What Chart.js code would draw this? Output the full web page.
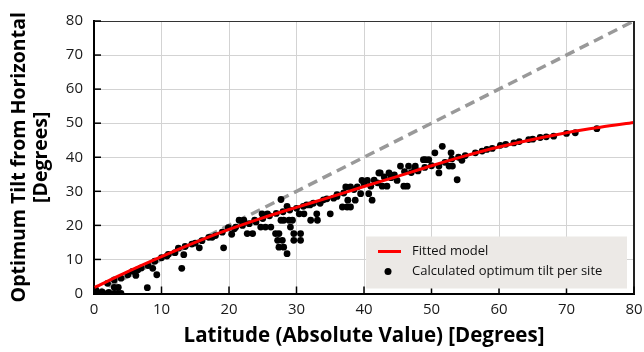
<!DOCTYPE html>
<html>
<head>
<meta charset="utf-8">
<script src="https://cdn.jsdelivr.net/npm/chart.js@4.4.1/dist/chart.umd.min.js"></script>
<style>
  html, body { margin: 0; padding: 0; background: #ffffff; }
  #wrap { width: 644px; height: 352px; position: relative; }
</style>
</head>
<body>
<div id="wrap"><canvas id="c" width="644" height="352"></canvas></div>
<script>
// ---- Data ----
const xTicks = [0, 10, 20, 30, 40, 50, 60, 70, 80];
const yTicks = [0, 10, 20, 30, 40, 50, 60, 70, 80];

// Calculated optimum tilt per site
const siteLatitude = [
  0, 0.3, 1, 1.2, 2, 2.2, 3, 3.5, 4, 3, 3.6, 7.9, 2, 3, 4, 5, 5.7, 6.2, 7, 8, 8.7, 9.3, 9, 10,
  11, 12, 12.5, 13, 13.3, 13.5, 14.5, 15.6, 16, 17, 18, 19, 19.2, 19.9, 20.4, 21, 21.5, 22.2, 22, 22.7, 23.5, 23,
  24, 24.7, 25.4, 26.2, 24.9, 25.7, 25, 26, 26.9, 27.4, 27.2, 27.9, 27.4, 28.1, 28.6, 27.7, 28.1, 28.9, 29.4,
  27.7, 28.6, 27, 28, 29, 29.1, 29.6, 30.6, 29.6, 30.6, 30.4, 31.1, 30, 31, 32, 32.1, 33.1, 33, 33.5, 34,
  35, 35.5, 36, 36.8, 37.5, 38, 37.6, 38.7, 37, 37.3, 38, 39, 39.5, 40.7, 41.2, 39.7, 40.5, 41, 42, 42.2,
  42.4, 42.7, 43.4, 43.7, 44, 44.9, 45.4, 45.9, 46.4, 46.6, 47.6, 47, 48, 48.8, 49.6, 49.1, 49, 50, 50.5,
  51.6, 51.1, 51.1, 52.9, 52.6, 53.1, 53.8, 52, 53, 54, 54.5, 55, 56.5, 57.5, 58.2, 59, 60.2, 61, 62.2, 63,
  64.4, 65, 66.1, 67, 68.1, 70, 71.3, 74.5, 31.5, 32.5, 34.5, 36, 6.5, 10.8, 15, 17.5, 20.8, 23.8,
  38.5, 40, 41.5, 43, 44.5, 46, 47.5
];
const siteTilt = [
  0, 1, 0, 0.5, 0, 0.3, 0, 0, 0, 1.8, 1.8, 1.7, 3, 4, 4.5, 5.5, 6.5, 5.3, 7.5, 8.2, 7.4, 5.5, 9.5, 10.5,
  11.5, 12, 13.3, 7.4, 11.4, 13.8, 14.5, 13.4, 15.5, 16.5, 17, 18, 13.4, 19.3, 17.4, 19.5, 21.5, 21.5, 20, 17.6, 17.6, 20.5,
  21, 19.5, 19.5, 19.5, 23.4, 23.4, 22, 22.8, 17.6, 17.6, 15.6, 15.6, 13.6, 13.6, 11.7, 21.5, 21.5, 21.5, 21.5,
  27.6, 25.6, 23.5, 24, 24.5, 19.5, 17.6, 17.6, 15.6, 15.6, 23.4, 23.4, 25, 25.6, 26, 21.5, 21.5, 23.4, 26.5, 27.5,
  23.4, 28, 28.5, 25.4, 25.4, 25.4, 27.4, 27.4, 29.5, 31.3, 31.3, 31.3, 29.3, 29.3, 27.4, 33.2, 33.2, 31.5, 32.5, 35.4,
  35.4, 31.5, 31.5, 35.4, 34, 33.2, 37.4, 31.5, 31.5, 37.4, 37.4, 35.5, 36, 39.3, 39.3, 39.3, 37, 37.5, 41.3,
  43.2, 37.4, 35.4, 41.3, 37.4, 37.4, 33.4, 38.5, 39.5, 40, 39.1, 40.5, 41.3, 41.8, 42.3, 42.6, 43.5, 43.8, 44.2, 44.6,
  45.2, 45.3, 45.8, 46, 46.2, 47, 47.2, 48.4, 26, 26.5, 27.8, 29, 7, 11, 14.8, 16.5, 19, 21.5,
  30.5, 32.2, 33.3, 34.2, 34.8, 35.8, 36.6
];

// Fitted model
const fitLatitude = [0, 5, 10, 15, 20, 25, 30, 35, 40, 45, 50, 55, 60, 65, 70, 75, 80];
const fitTilt = [1.7, 6.4, 10.8, 15.0, 18.8, 22.2, 25.3, 28.3, 31.4, 34.4, 37.5, 40.4, 43.0, 45.2, 47.2, 48.8, 50.2];

// 1:1 reference line
const refLatitude = [0, 80];
const refTilt = [0, 80];

const legendLabels = ['Fitted model', 'Calculated optimum tilt per site'];

// ---- Build chart ----
const toPts = (xs, ys) => xs.map((x, i) => ({ x: x, y: ys[i] }));

const innerTicks = {
  id: 'innerTicks',
  afterDatasetsDraw(chart) {
    const ctx = chart.ctx;
    const a = chart.chartArea;
    const xs = chart.scales.x, ys = chart.scales.y;
    ctx.save();
    // frame top / right
    ctx.strokeStyle = '#333';
    ctx.lineWidth = 1;
    ctx.beginPath();
    ctx.moveTo(a.left, a.top + 0.5);
    ctx.lineTo(a.right, a.top + 0.5);
    ctx.stroke();
    ctx.lineWidth = 2;
    ctx.strokeStyle = '#222';
    ctx.beginPath();
    ctx.moveTo(a.right, a.top);
    ctx.lineTo(a.right, a.bottom);
    ctx.stroke();
    // inward ticks
    ctx.strokeStyle = '#000';
    ctx.lineWidth = 1.5;
    xs.ticks.forEach(t => {
      const p = xs.getPixelForValue(t.value);
      ctx.beginPath();
      ctx.moveTo(p, a.bottom);
      ctx.lineTo(p, a.bottom - 7);
      ctx.stroke();
    });
    ys.ticks.forEach(t => {
      const p = ys.getPixelForValue(t.value);
      ctx.beginPath();
      ctx.moveTo(a.left, p);
      ctx.lineTo(a.left + 7, p);
      ctx.stroke();
    });
    ctx.restore();
  },
  afterDraw(chart) {
    const ctx = chart.ctx;
    const a = chart.chartArea;
    // legend box inside plot, lower right
    const bx = a.left + 272, by = a.bottom - 57, bw = 261, bh = 52;
    ctx.save();
    ctx.fillStyle = '#ece9e6';
    ctx.fillRect(bx, by, bw, bh);
    ctx.strokeStyle = '#ff0000';
    ctx.lineWidth = 3;
    ctx.beginPath();
    ctx.moveTo(bx + 12, by + 15);
    ctx.lineTo(bx + 35, by + 15);
    ctx.stroke();
    ctx.fillStyle = '#000';
    ctx.beginPath();
    ctx.arc(bx + 22, by + 35, 3.5, 0, Math.PI * 2);
    ctx.fill();
    ctx.font = '13px "Open Sans", sans-serif';
    ctx.textBaseline = 'middle';
    ctx.fillStyle = '#111';
    ctx.fillText(legendLabels[0], bx + 46, by + 15);
    ctx.fillText(legendLabels[1], bx + 46, by + 35);
    ctx.restore();
  }
};

new Chart(document.getElementById('c'), {
  type: 'scatter',
  data: {
    datasets: [
      {
        label: legendLabels[0],
        data: toPts(fitLatitude, fitTilt),
        showLine: true,
        borderColor: '#ff0000',
        borderWidth: 3,
        pointRadius: 0,
        cubicInterpolationMode: 'monotone',
        order: 0
      },
      {
        label: legendLabels[1],
        data: toPts(siteLatitude, siteTilt),
        backgroundColor: '#000',
        borderColor: '#000',
        pointRadius: 3.4,
        borderWidth: 0,
        order: 1
      },
      {
        label: '1:1',
        data: toPts(refLatitude, refTilt),
        showLine: true,
        borderColor: '#999999',
        borderWidth: 3.5,
        borderDash: [10, 6],
        pointRadius: 0,
        order: 2
      }
    ]
  },
  options: {
    responsive: false,
    animation: false,
    events: [],
    layout: { padding: { top: 21, right: 10, left: 8, bottom: 5 } },
    plugins: { legend: { display: false }, tooltip: { enabled: false } },
    scales: {
      x: {
        type: 'linear', min: 0, max: 80,
        afterBuildTicks: s => { s.ticks = xTicks.map(v => ({ value: v })); },
        afterFit: s => { s.paddingLeft = 0; s.paddingRight = 0; },
        ticks: { color: '#1a1a1a', font: { family: 'Open Sans', size: 15 }, padding: 7 },
        grid: { color: '#d3d3d3', lineWidth: 1, drawTicks: false },
        border: { color: '#000', width: 2 },
        title: { display: true, text: 'Latitude (Absolute Value) [Degrees]', color: '#000',
                 font: { family: 'Open Sans', size: 20.5, weight: 'bold', lineHeight: 1.0 }, padding: { top: 0, bottom: 1 } }
      },
      y: {
        type: 'linear', min: 0, max: 80,
        afterBuildTicks: s => { s.ticks = yTicks.map(v => ({ value: v })); },
        afterFit: s => { s.paddingTop = 0; s.paddingBottom = 0; },
        ticks: { color: '#1a1a1a', font: { family: 'Open Sans', size: 15 }, padding: 11 },
        grid: { color: '#d3d3d3', lineWidth: 1, drawTicks: false },
        border: { color: '#000', width: 2 },
        title: { display: true, text: ['Optimum Tilt from Horizontal', '[Degrees]'], color: '#000',
                 font: { family: 'Open Sans', size: 19.5, weight: 'bold', lineHeight: 1.15 }, padding: { top: 0, bottom: 2 } }
      }
    }
  },
  plugins: [innerTicks]
});
</script>
</body>
</html>
